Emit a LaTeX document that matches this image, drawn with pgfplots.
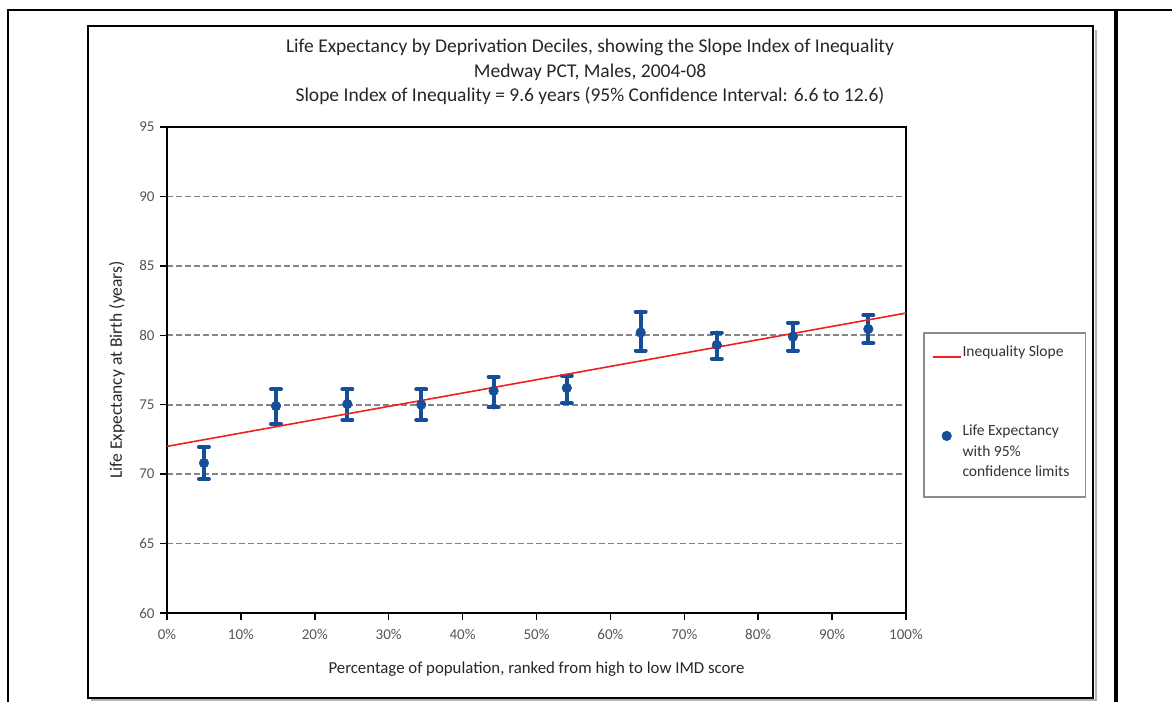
\documentclass[border=0pt]{standalone}
\usepackage{fontspec}
\setmainfont{Carlito}
\usepackage{pgfplots}
\pgfplotsset{compat=1.18}

\definecolor{lifeblue}{RGB}{22,78,152}
\definecolor{slopered}{RGB}{238,32,32}
\definecolor{gridgray}{RGB}{132,132,132}
\definecolor{ticktext}{RGB}{85,85,85}
\definecolor{legendgray}{RGB}{140,140,140}

% legend samples: a short line for the slope, a centred dot for the estimates
\pgfplotsset{
  slope legend/.style={legend image code/.code={\draw[##1] (0pt,0pt) -- (28pt,0pt);}},
  dot legend/.style={legend image code/.code={\draw[##1, mark repeat=2, mark phase=2]
      plot coordinates {(0pt,0pt) (14pt,0pt) (28pt,0pt)};}},
}

% Life expectancy by deprivation decile: position (% of population), value, upper and lower CI widths
\pgfplotstableread{
x     le     ep    em
5.0   70.80  1.15  1.15
14.75 74.90  1.20  1.30
24.4  75.05  1.05  1.15
34.4  75.00  1.10  1.10
44.2  76.00  1.00  1.20
54.1  76.20  0.90  1.10
64.1  80.20  1.50  1.30
74.4  79.30  0.90  1.00
84.7  79.90  1.00  1.00
94.9  80.45  1.00  1.00
}\lifetable

\begin{document}
\begin{tikzpicture}[x=1pt,y=1pt]
\useasboundingbox (0pt,0pt) rectangle (1172pt,702pt);

% page frame
\draw[line width=2pt] (7pt,692pt) -- (1172pt,692pt);
\draw[line width=2pt] (8pt,693pt) -- (8pt,0pt);
\draw[line width=4.5pt] (1116pt,693pt) -- (1116pt,0pt);

% chart area with a light shadow
\draw[gray!60, line width=2pt] (91pt,2pt) -- (1096pt,2pt) -- (1096pt,672pt);
\draw[line width=1.8pt] (88pt,676pt) rectangle (1093pt,4pt);

% title
\node[align=center, font=\fontsize{19.5}{24.5}\selectfont, text=black!85] at (590pt,630pt)
  {Life Expectancy by Deprivation Deciles, showing the Slope Index of Inequality\\
   Medway PCT, Males, 2004-08\\
   Slope Index of Inequality = 9.6 years (95\% Confidence Interval: 6.6 to 12.6)};

\begin{axis}[
  at={(167pt,89pt)}, anchor=south west,
  scale only axis, width=739pt, height=486pt,
  xmin=0, xmax=100, ymin=60, ymax=95,
  xtick={0,10,...,100}, ytick={60,65,...,95},
  xticklabel={\pgfmathprintnumber{\tick}\%},
  /pgf/number format/assume math mode=true,
  tick label style={font=\fontsize{15}{17}\selectfont, text=ticktext},
  xtick pos=bottom, ytick pos=left,
  tick align=outside, major tick length=7pt,
  every tick/.style={black, line width=1.5pt},
  axis line style={line width=1.5pt},
  xticklabel style={yshift=-6pt},
  yticklabel style={xshift=-2pt},
  ymajorgrids,
  grid style={gridgray, line width=1.8pt, dash pattern=on 6pt off 3pt},
  xlabel={Percentage of population, ranked from high to low IMD score},
  ylabel={Life Expectancy at Birth (years)},
  every axis x label/.style={at={(axis description cs:0.5,-0.1152)}, anchor=center,
    font=\fontsize{16.8}{19}\selectfont, text=black!85},
  every axis y label/.style={at={(axis description cs:-0.0677,0.5)}, anchor=center, rotate=90,
    font=\fontsize{17.5}{19}\selectfont, text=black!85},
  reverse legend,
  legend style={at={(axis description cs:1.023,0.578)}, anchor=north west,
    draw=legendgray, line width=1.8pt, fill=white,
    font=\fontsize{15.5}{20.5}\selectfont, text=black!80,
    inner xsep=8pt, inner ysep=12pt, row sep=64pt,
    nodes={inner sep=1pt, text depth=, anchor=base west}},
  legend cell align=left,
]
\addplot[only marks, mark=*, mark size=4.8pt, color=lifeblue,
  mark options={line width=0.5pt}, dot legend,
  error bars/.cd, y dir=both, y explicit,
  error bar style={line width=4pt, color=lifeblue, line cap=round},
  error mark options={line width=4pt, mark size=5pt, color=lifeblue, line cap=round, rotate=90}]
  table[x=x, y=le, y error plus=ep, y error minus=em] {\lifetable};
\addlegendentry{\parbox[t]{114pt}{Life Expectancy\\with 95\%\\confidence limits\rule[-7pt]{0pt}{1pt}}}

\addplot[slopered, line width=1.6pt, slope legend]
  coordinates {(0,72.0) (100,81.6)};
\addlegendentry{Inequality Slope}
\end{axis}
\end{tikzpicture}
\end{document}
